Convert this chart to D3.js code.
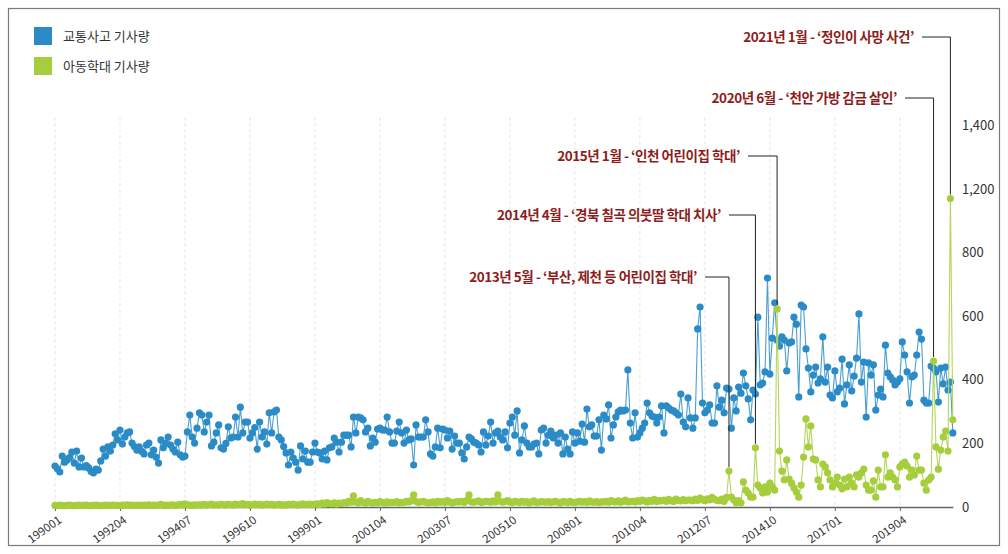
<!DOCTYPE html>
<html><head><meta charset="utf-8">
<script src="https://cdn.jsdelivr.net/npm/d3@7/dist/d3.min.js"></script>
<style>
html,body{margin:0;padding:0;background:#fff;}
svg{display:block;}
text{font-family:"Noto Sans CJK KR","Noto Sans",sans-serif;}
</style></head>
<body>
<svg id="chart" width="1008" height="554"></svg>
<script>
// ---- data (monthly, 1990-01 .. 2021-02) ----
const seriesNames = ["교통사고 기사량", "아동학대 기사량"];
const startYear = 1990;
const trafficByYear = [
  [129,120,110,160,141,148,155,173,138,176,126,154],
  [126,130,123,112,107,119,116,145,182,160,189,176],
  [195,230,211,242,198,220,233,236,201,190,179,189],
  [175,167,195,201,164,179,157,138,211,186,200,220],
  [195,182,173,204,164,157,160,236,289,220,201,248],
  [296,289,236,267,289,192,204,233,258,186,182,200],
  [252,217,220,283,220,314,233,267,267,217,233,250],
  [182,267,220,236,198,296,233,299,305,220,211,190],
  [170,132,173,154,141,116,192,151,176,141,141,173],
  [201,173,170,151,176,148,186,189,217,204,173,204],
  [226,226,226,189,283,233,283,280,274,236,248,192],
  [217,204,245,248,242,242,283,236,201,201,239,267],
  [233,201,242,211,214,132,258,220,220,220,274,236],
  [167,160,189,248,186,245,242,217,239,182,223,201],
  [201,170,151,189,220,214,204,201,195,173,236,195],
  [223,267,201,233,239,220,211,236,186,264,283,226],
  [302,170,211,255,201,189,189,198,201,167,242,248],
  [201,226,239,217,226,201,233,167,220,182,167,236],
  [201,233,207,261,204,308,252,258,223,223,274,179],
  [289,277,321,217,258,283,299,305,302,305,431,264],
  [217,296,220,233,248,264,327,296,286,283,264,283],
  [318,233,318,311,305,302,296,289,355,267,252,343],
  [280,248,280,560,629,327,296,305,321,264,264,381],
  [314,336,296,374,371,248,343,302,377,358,421,381],
  [340,274,368,355,597,384,390,425,720,418,531,642],
  [525,506,535,525,428,516,519,597,575,346,635,629],
  [497,437,362,415,440,390,403,535,393,440,352,343],
  [428,362,374,465,324,384,447,365,412,468,607,393],
  [456,283,453,415,447,305,352,371,346,509,421,409],
  [399,384,393,403,519,478,425,327,409,415,478,550],
  [528,336,327,327,443,437,425,330,437,387,440,368],
  [393,233]
];
const abuseByYear = [
  [5,4,6,5,4,5,6,5,4,5,6,5],
  [5,6,4,5,5,6,5,4,5,6,5,5],
  [6,5,5,4,6,5,7,5,6,5,5,6],
  [5,6,5,7,5,6,5,6,8,5,6,5],
  [6,7,5,6,8,6,10,7,6,5,7,6],
  [7,6,8,6,7,9,6,7,6,8,7,6],
  [8,7,6,9,7,8,11,7,8,6,7,9],
  [7,8,6,7,9,7,8,6,7,8,6,7],
  [6,8,7,9,7,6,8,10,7,8,9,7],
  [9,10,8,12,9,14,11,10,13,9,12,11],
  [14,12,18,15,35,16,13,20,15,12,18,14],
  [12,15,13,17,14,12,16,13,15,14,17,13],
  [15,14,18,16,20,38,17,14,16,18,15,13],
  [14,16,13,18,15,17,14,20,16,13,15,17],
  [16,18,14,20,38,16,15,17,19,14,16,18],
  [17,15,19,16,38,18,15,17,20,16,14,18],
  [16,14,18,15,17,13,16,19,14,15,17,16],
  [15,17,14,16,18,15,13,17,16,14,18,15],
  [14,16,18,15,17,14,19,16,15,17,14,16],
  [16,18,15,20,17,16,19,15,18,22,16,17],
  [18,16,20,17,22,19,16,21,18,24,17,20],
  [19,22,18,24,20,17,25,21,19,23,20,22],
  [22,20,25,21,28,23,20,26,22,30,24,21],
  [20,25,18,30,113,31,22,13,20,13,79,53],
  [44,31,31,186,69,60,44,63,47,75,63,53],
  [623,176,113,85,148,88,75,60,47,31,69,157],
  [277,189,255,151,148,85,63,135,126,107,85,63],
  [75,94,69,57,88,63,94,75,63,101,94,107],
  [119,69,53,53,82,31,116,63,63,164,94,107],
  [94,85,63,126,135,141,129,94,116,101,160,116],
  [116,75,53,85,94,459,189,119,179,220,239,176],
  [1140,274]
];
const xTickLabels = ["199001","199204","199407","199610","199901","200104","200307","200510","200801","201004","201207","201410","201701","201904"];
const yTickValues = [0,200,400,600,800,1200,1400];
const annotationLabels = [
  "2021년 1월 - ‘정인이 사망 사건’",
  "2020년 6월 - ‘천안 가방 감금 살인’",
  "2015년 1월 - ‘인천 어린이집 학대’",
  "2014년 4월 - ‘경북 칠곡 의붓딸 학대 치사’",
  "2013년 5월 - ‘부산, 제천 등 어린이집 학대’"
];
const annotationMonths = ["202101","202006","201501","201404","201305"];

// ---- build ----
const traffic = trafficByYear.flat();
const abuse = abuseByYear.flat();
const monthIndex = s => (+s.slice(0,4) - startYear) * 12 + (+s.slice(4,6) - 1);

const colors = ["#2b8bc6", "#a6cd3b"];
const lineColors = ["#4a9fd2", "#b5d65a"];

const svg = d3.select("#chart");
// frame
svg.append("rect").attr("x",8.5).attr("y",8.5).attr("width",991).attr("height",537)
  .attr("fill","none").attr("stroke","#7a7a7a").attr("stroke-width",1.2);

const x = d3.scaleLinear().domain([0, traffic.length - 1]).range([55, 55 + (traffic.length - 1) * 2.407]);
const y = d3.scaleLinear().domain([0, 800, 1200, 1400]).range([507, 252.6, 189, 125.4]);

// vertical dashed grid
const tickIdx = xTickLabels.map(monthIndex);
svg.append("g").selectAll("line").data(tickIdx).join("line")
  .attr("x1", d => x(d)).attr("x2", d => x(d))
  .attr("y1", y(1400) - 8).attr("y2", y(0))
  .attr("stroke", "#e4e4e4").attr("stroke-dasharray", "3,3");

// x axis
const xAxis = d3.axisBottom(x).tickValues(tickIdx)
  .tickFormat((d, i) => xTickLabels[i]).tickSize(4).tickSizeOuter(0);
const gx = svg.append("g").attr("transform", `translate(0,${y(0)})`).call(xAxis);
gx.select(".domain").attr("stroke", "#666").attr("stroke-width", 1.3);
gx.selectAll(".tick line").attr("stroke", "#666");
gx.selectAll(".tick text")
  .attr("font-size", 11.5).attr("fill", "#333")
  .attr("font-family", "'Noto Sans', sans-serif")
  .attr("text-anchor", "end")
  .attr("dx", 0).attr("dy", 0)
  .attr("transform", "translate(3,9) rotate(-35)");

// y axis (right side, labels only)
const yAxis = d3.axisRight(y).tickValues(yTickValues).tickFormat(d3.format(",")).tickSize(0);
const gy = svg.append("g").attr("transform", `translate(959,0)`).call(yAxis);
gy.select(".domain").remove();
gy.selectAll(".tick text").attr("font-size", 13).attr("fill", "#333")
  .attr("font-family", "'Noto Sans', sans-serif").attr("x", 3);

// series
const series = [traffic, abuse];
const line = d3.line().x((d, i) => x(i)).y(d => y(d));
series.forEach((vals, s) => {
  const g = svg.append("g");
  g.append("path").datum(vals).attr("d", line)
    .attr("fill", "none").attr("stroke", lineColors[s]).attr("stroke-width", 1.1);
  g.selectAll("circle").data(vals).join("circle")
    .attr("cx", (d, i) => x(i)).attr("cy", d => y(d)).attr("r", 3.6)
    .attr("fill", colors[s]);
});

// legend
const lg = svg.append("g");
seriesNames.forEach((n, i) => {
  lg.append("rect").attr("x", 34).attr("y", 27 + i * 30).attr("width", 18).attr("height", 18).attr("fill", colors[i]);
  lg.append("text").attr("x", 63).attr("y", 36 + i * 30).attr("dy", "0.35em")
    .attr("font-size", 13).attr("fill", "#333").text(n);
});

// annotations
const annTextY = [37, 98, 156, 215, 277];
const annTextEnd = [914, 897, 740, 721, 697];
const ag = svg.append("g");
annotationLabels.forEach((lab, k) => {
  const mi = monthIndex(annotationMonths[k]);
  const px = x(mi), py = y(abuse[mi]);
  ag.append("text").attr("x", annTextEnd[k]).attr("y", annTextY[k]).attr("dy", "0.35em")
    .attr("text-anchor", "end").attr("font-size", 13.5).attr("font-weight", "bold")
    .attr("letter-spacing", "-0.45px").attr("fill", "#8c1d1d").text(lab);
  ag.append("polyline")
    .attr("points", `${annTextEnd[k] + 8},${annTextY[k]} ${px},${annTextY[k]} ${px},${py - 4}`)
    .attr("fill", "none").attr("stroke", "#222").attr("stroke-width", 1);
});
</script>
</body></html>
